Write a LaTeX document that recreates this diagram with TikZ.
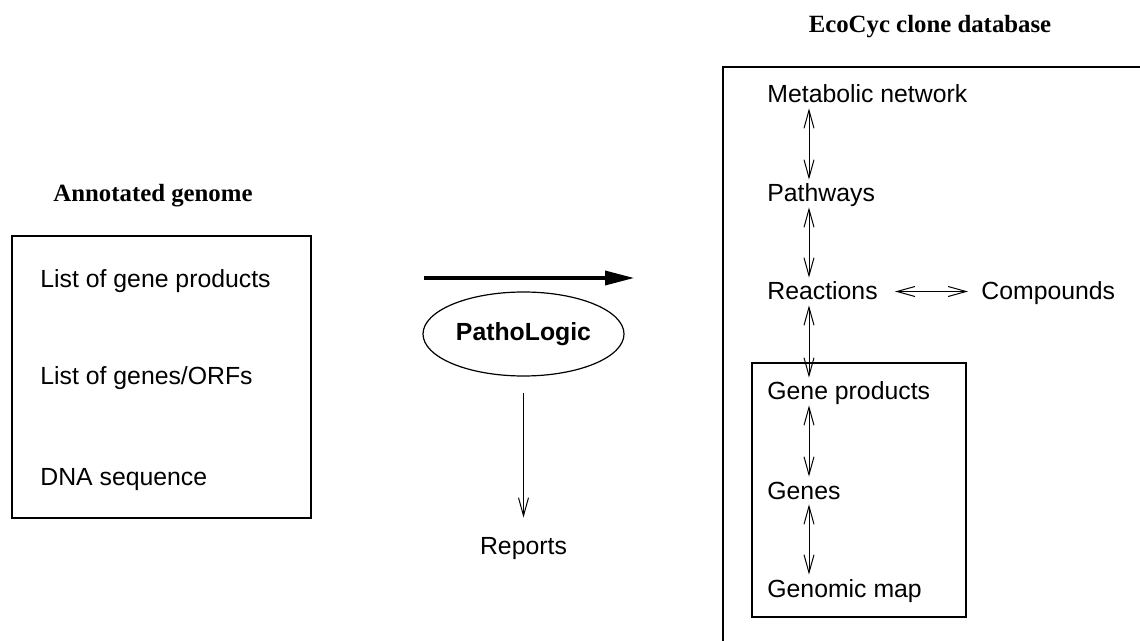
\documentclass[tikz,border=0pt]{standalone}
\usepackage{fontspec}
\setmainfont{Liberation Serif}
\setsansfont{Liberation Sans}
\usetikzlibrary{arrows.meta,shapes.geometric}
\begin{document}
\begin{tikzpicture}[x=0.5pt,y=-0.5pt,
  lbl/.style={font=\sffamily\fontsize{12.4}{14}\selectfont, anchor=base west,
    inner xsep=0pt, inner ysep=2.5pt, text height=8.5pt, text depth=0pt},
  ttl/.style={font=\rmfamily\bfseries\fontsize{12.4}{14}\selectfont, anchor=base, inner sep=0pt},
  dbl/.style={{Straight Barb[length=9pt,width=5pt]}-{Straight Barb[length=9pt,width=5pt]}, line width=0.5pt},
  sgl/.style={-{Straight Barb[length=9pt,width=5pt]}, line width=0.5pt},
  boxst/.style={draw, line width=0.6pt, inner sep=0pt},
  thick arrow/.style={-{Triangle[length=15pt,width=6.8pt]}, line width=2.3pt}]
\clip (0,0) rectangle (1140,641);
\fill[white] (0,0) rectangle (1140,641);

% left: annotated genome
\node[ttl] (ann) at (153,202) {Annotated genome};
\node[boxst, minimum width=149.5pt, minimum height=141pt] (gbox) at (161.5,377) {};
\node[lbl] (lgp) at (40,288) {List of gene products};
\node[lbl] (lgo) at (40,385) {List of genes/ORFs};
\node[lbl] (dna) at (40,485) {DNA sequence};

% middle: PathoLogic
\coordinate (ta) at (424,278);
\coordinate (tb) at (635,278);
\draw[thick arrow] (ta) -- (tb);
\node[draw, ellipse, line width=0.6pt, inner sep=0pt, minimum width=100.5pt, minimum height=42pt,
  font=\sffamily\bfseries\fontsize{12.4}{14}\selectfont] (pl) at (523.5,334) {PathoLogic};
\node[lbl, anchor=base] (rep) at (523.5,554) {Reports};
\draw[sgl, shorten <=8pt, shorten >=7pt] (pl.south) -- (rep.north);

% right: EcoCyc clone database
\node[ttl] (eco) at (930,33) {EcoCyc clone database};
\draw[line width=0.6pt] (723,700) -- (723,67) -- (1200,67);
\node[boxst, minimum width=107pt, minimum height=127pt] (ibox) at (859,490) {};

\node[lbl] (met) at (767,103) {Metabolic network};
\node[lbl] (pw)  at (767,202) {Pathways};
\node[lbl] (rea) at (767,300) {Reactions};
\node[lbl] (cmp) at (981,300) {Compounds};
\node[lbl] (gp)  at (767,400) {Gene products};
\node[lbl] (gn)  at (767,499) {Genes};
\node[lbl] (gm)  at (767,597) {Genomic map};

\coordinate (ax) at (809,0);
\draw[dbl] (met.south -| ax) -- (pw.north -| ax);
\draw[dbl] (pw.south -| ax) -- (rea.north -| ax);
\draw[dbl] (rea.south -| ax) -- (gp.north -| ax);
\draw[dbl] (gp.south -| ax) -- (gn.north -| ax);
\draw[dbl] (gn.south -| ax) -- (gm.north -| ax);
\draw[dbl, shorten <=8.5pt, shorten >=6.5pt] (rea.east) -- (cmp.west);
\end{tikzpicture}
\end{document}
